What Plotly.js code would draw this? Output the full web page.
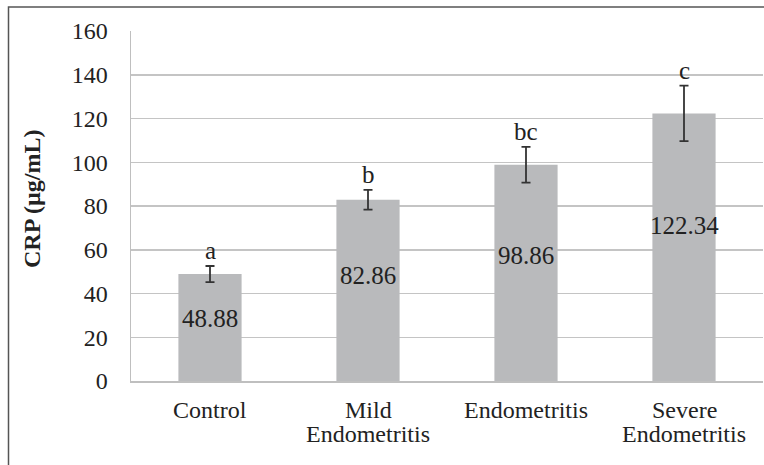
<!DOCTYPE html>
<html>
<head>
<meta charset="utf-8">
<script src="https://cdn.plot.ly/plotly-3.0.1.min.js"></script>
<style>html,body{margin:0;padding:0;background:#fff;}#chart{width:764px;height:465px;}</style>
</head>
<body>
<div id="chart"></div>
<script>
// Data
const categories = ["Control", "Mild\nEndometritis", "Endometritis", "Severe\nEndometritis"];
const crpMeans = [48.88, 82.86, 98.86, 122.34];
const crpErrors = [3.7, 4.5, 8.2, 12.7];
const groupLetters = ["a", "b", "bc", "c"];
const yTickValues = [0, 20, 40, 60, 80, 100, 120, 140, 160];

const FONT = "'Liberation Serif'";
const TXT = "#222222";
const W = 764, H = 465;
const M = {l: 131, r: 1, t: 31, b: 84};
const pw = W - M.l - M.r, ph = H - M.t - M.b;

const xIdx = categories.map((c, i) => i);

const trace = {
  type: "bar",
  x: xIdx,
  y: crpMeans,
  width: 0.4,
  marker: {color: "#b9babc", line: {width: 0}},
  error_y: {type: "data", array: crpErrors, visible: true, color: "#333333", thickness: 1.8, width: 4.5},
  hoverinfo: "skip"
};

const annotations = [];
// value labels inside bars
crpMeans.forEach((v, i) => {
  annotations.push({x: i, y: v * 0.58, xref: "x", yref: "y", text: v.toFixed(2),
    showarrow: false, font: {family: FONT, size: 25, color: TXT}, yanchor: "middle"});
});
// significance letters above error bars
crpMeans.forEach((v, i) => {
  annotations.push({x: i, y: v + crpErrors[i], xref: "x", yref: "y", text: groupLetters[i],
    showarrow: false, font: {family: FONT, size: 25, color: TXT}, yanchor: "bottom", yshift: 0});
});
// category labels (line by line for tight spacing)
categories.forEach((c, i) => {
  c.split("\n").forEach((line, j) => {
    annotations.push({x: i, y: 0, xref: "x", yref: "paper", text: line, showarrow: false,
      font: {family: FONT, size: 24, color: TXT}, yanchor: "middle", yshift: -29 - 24 * j});
  });
});
// y axis title
annotations.push({x: (32 - M.l) / pw, y: 0.5 + (206 - 199) / ph, xref: "paper", yref: "paper",
  text: "<b>CRP (µg/mL)</b>", textangle: -90, showarrow: false,
  font: {family: FONT, size: 24, color: TXT}, xanchor: "center", yanchor: "middle"});

const layout = {
  width: W, height: H,
  margin: M,
  font: {family: FONT},
  paper_bgcolor: "#ffffff",
  plot_bgcolor: "#ffffff",
  showlegend: false,
  xaxis: {
    range: [-0.5, 3.5],
    showticklabels: false,
    ticks: "",
    showgrid: false,
    zeroline: false,
    showline: true, linecolor: "#bfbfbf", linewidth: 1.5
  },
  yaxis: {
    range: [0, 160],
    tickvals: yTickValues,
    ticktext: yTickValues.map(String),
    ticks: "",
    ticklabelstandoff: 17,
    tickfont: {family: FONT, size: 24, color: TXT},
    showgrid: true, gridcolor: "#c4c4c4", gridwidth: 1.5,
    zeroline: false,
    showline: true, linecolor: "#bfbfbf", linewidth: 1.5
  },
  annotations: annotations,
  shapes: [{
    type: "rect", xref: "paper", yref: "paper",
    x0: (8.5 - M.l) / pw, x1: 1.2,
    y0: -0.5, y1: 1 + (M.t - 7) / ph,
    line: {color: "#555555", width: 1.5}, fillcolor: "rgba(0,0,0,0)", layer: "below"
  }]
};

Plotly.newPlot("chart", [trace], layout, {displayModeBar: false, staticPlot: true});
</script>
</body>
</html>
